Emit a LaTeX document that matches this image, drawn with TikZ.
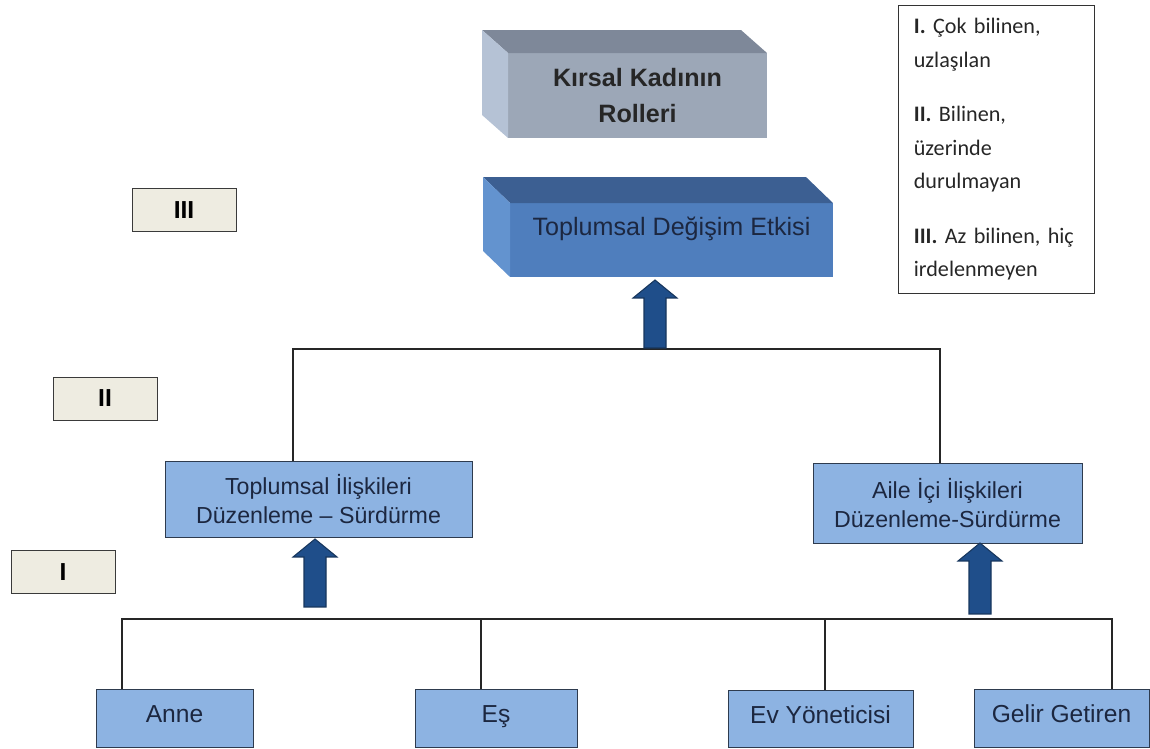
\documentclass[tikz,border=0pt]{standalone}
\usepackage{fontspec}
\setmainfont{Liberation Sans}
\newfontfamily\legendfont{Carlito}
\usepackage{tikz}
\usetikzlibrary{arrows.meta}
\definecolor{boxblue}{HTML}{8DB3E2}
\definecolor{boxline}{HTML}{2E3B4E}
\definecolor{navytext}{HTML}{1C2740}
\definecolor{levfill}{HTML}{EEECE1}
\definecolor{levline}{HTML}{3A3A3A}
\definecolor{arrowblue}{HTML}{1F4E8A}
\definecolor{arrowline}{HTML}{17365D}
\definecolor{grayfront}{HTML}{9CA7B7}
\definecolor{graytop}{HTML}{7E8899}
\definecolor{grayside}{HTML}{B5C2D5}
\definecolor{bluefront}{HTML}{4F7EBD}
\definecolor{bluetop}{HTML}{3C5F92}
\definecolor{blueside}{HTML}{6393CF}
% block arrow: tip, shaft length
\newcommand{\bigarrow}[2]{\filldraw[barrow] (#1) -- ++(22,18) -- ++(-11,0) -- ++(0,#2) -- ++(-22,0) -- ++(0,-#2) -- ++(-11,0) -- cycle;}
\begin{document}
\begin{tikzpicture}[x=0.02cm, y=-0.02cm,
  rolebox/.style={font=\fontsize{14}{17}\selectfont, draw=boxline, fill=boxblue, text=navytext, inner sep=0, align=center},
  leafbox/.style={rolebox, text height=0.75em, text depth=0.25em},
  levelbox/.style={font=\bfseries\fontsize{14}{17}\selectfont, draw=levline, fill=levfill, minimum width=2.08cm, minimum height=0.86cm},
  cube/.style={inner sep=0, outer sep=0, align=center},
  barrow/.style={fill=arrowblue, draw=arrowline, line width=0.6pt},
  link/.style={draw=black!85, line width=0.7pt}]
\useasboundingbox (0,0) rectangle (1150,749);
%3d boxes
\node[cube, fill=grayfront, minimum width=5.18cm, minimum height=1.7cm, font=\bfseries\fontsize{14.3}{21}\selectfont, text=black!85] (kkr) at (637.5,95.5) {Kırsal Kadının\\Rolleri};
\fill[graytop] (kkr.north west) -- ++(-26,-23) -- ([shift={(-26,-23)}]kkr.north east) -- (kkr.north east) -- cycle;
\fill[grayside] (kkr.north west) -- ++(-26,-23) -- ([shift={(-26,-23)}]kkr.south west) -- (kkr.south west) -- cycle;
\node[cube, fill=bluefront, minimum width=6.46cm, minimum height=1.48cm, text depth=0.55cm, font=\fontsize{14.3}{17}\selectfont, text=navytext] (tde) at (671.5,240) {Toplumsal Değişim Etkisi};
\fill[bluetop] (tde.north west) -- ++(-27,-26) -- ([shift={(-27,-26)}]tde.north east) -- (tde.north east) -- cycle;
\fill[blueside] (tde.north west) -- ++(-27,-26) -- ([shift={(-27,-26)}]tde.south west) -- (tde.south west) -- cycle;
%levels
\node[levelbox] (l3) at (184,210) {III};
\node[levelbox] (l2) at (105,398.5) {II};
\node[levelbox] (l1) at (63,572) {I};
%legend
\node[draw=black!80, anchor=north west, minimum width=3.92cm, minimum height=5.76cm, text width=3.3cm, inner xsep=0.31cm, align=left, font=\legendfont\fontsize{12.6}{19}\selectfont, text=black!85] (leg) at (898,5)
  {\textbf{I.} Çok bilinen,\\uzlaşılan\\[12pt]\textbf{II.} Bilinen,\\üzerinde\\durulmayan\\[12pt]\textbf{III.} Az bilinen, hiç\\irdelenmeyen};
%middle
\node[rolebox, minimum width=6.14cm, minimum height=1.52cm, font=\fontsize{13.2}{17}\selectfont] (tsi) at (318.5,499) {Toplumsal İlişkileri\\Düzenleme – Sürdürme};
\node[rolebox, minimum width=5.38cm, minimum height=1.6cm, font=\fontsize{13.2}{16}\selectfont] (aii) at (947.5,503) {Aile İçi İlişkileri\\Düzenleme-Sürdürme};
%bottom
\node[leafbox, minimum width=3.14cm, minimum height=1.16cm] (anne) at (174.5,718) {Anne};
\node[leafbox, minimum width=3.24cm, minimum height=1.16cm] (es) at (496,718) {Eş};
\node[leafbox, minimum width=3.7cm, minimum height=1.14cm] (evy) at (820.5,719) {Ev Yöneticisi};
\node[leafbox, minimum width=3.5cm, minimum height=1.16cm] (gel) at (1061.5,718) {Gelir Getiren};
%tree lines
\coordinate (m1) at (293,349);
\coordinate (m2) at (940,349);
\draw[link] (tsi.north -| m1) -- (m1) -- (m2) -- (aii.north -| m2);
\coordinate (b1) at (122,619);
\coordinate (b2) at (481,619);
\coordinate (b3) at (825,619);
\coordinate (b4) at (1112,619);
\draw[link] (anne.north -| b1) -- (b1) -- (b4) -- (gel.north -| b4);
\draw[link] (b2) -- (es.north -| b2);
\draw[link] (b3) -- (evy.north -| b3);
%arrows
\coordinate (t0) at (655,280);
\coordinate (t1) at (315,539);
\coordinate (t2) at (980,543);
\bigarrow{t0}{50}
\bigarrow{t1}{50}
\bigarrow{t2}{53}
\end{tikzpicture}
\end{document}
